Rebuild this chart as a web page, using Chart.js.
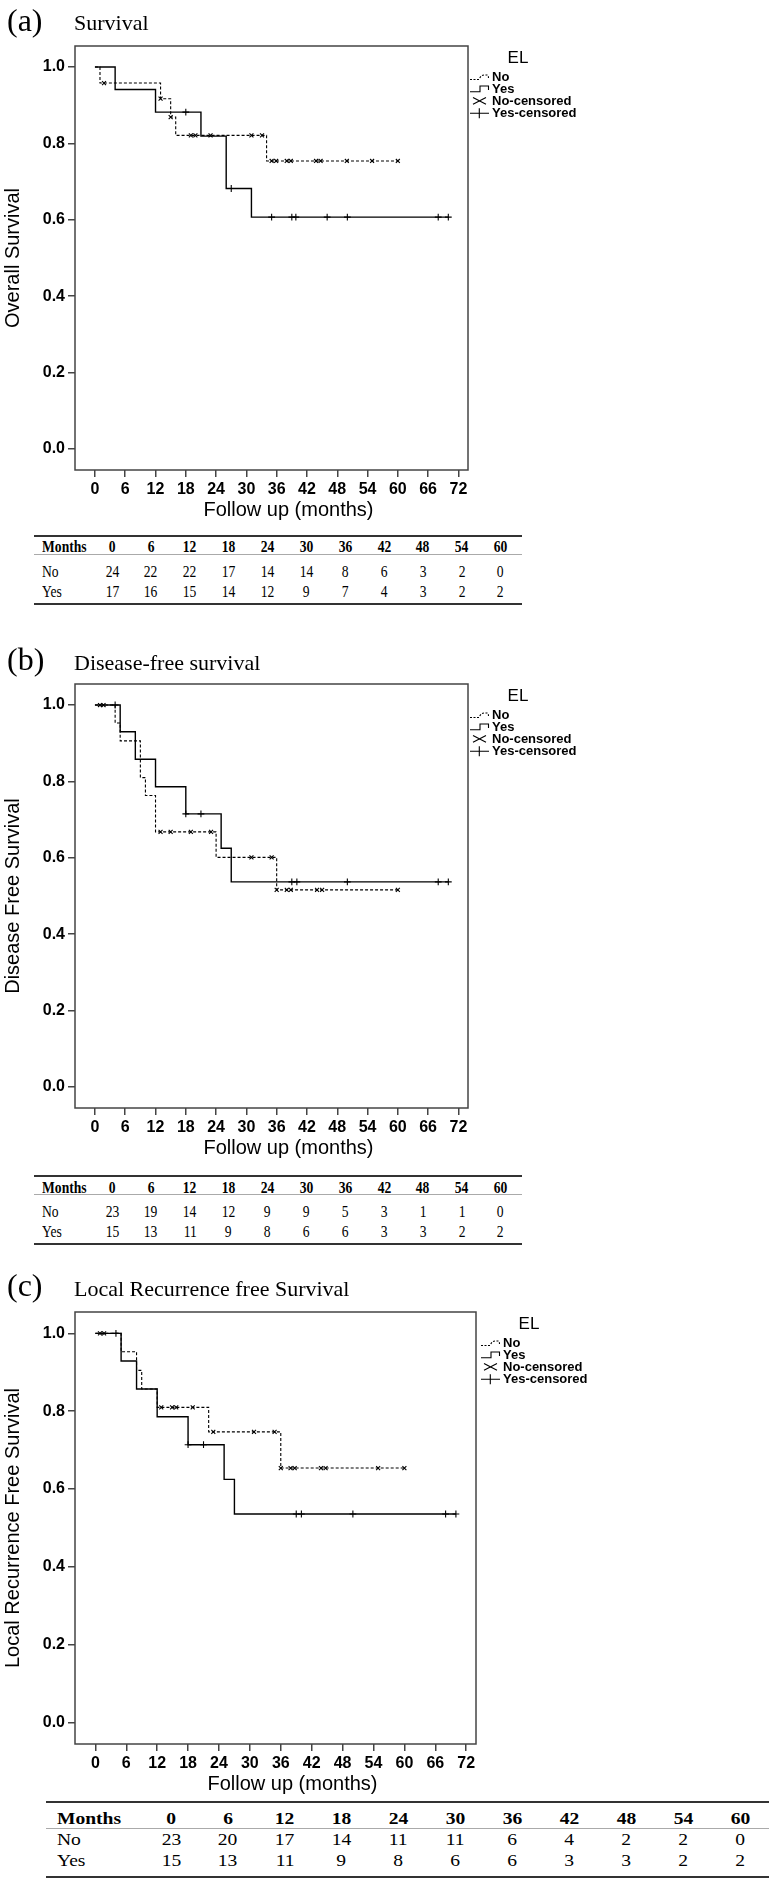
<!DOCTYPE html>
<html lang="en">
<head>
<meta charset="UTF-8">
<title>EL survival curves</title>
<script src="https://cdn.jsdelivr.net/npm/chart.js@4.4.0/dist/chart.umd.min.js"></script>
<style>
  html, body { margin: 0; padding: 0; background: #fff; }
  body { position: relative; width: 776px; height: 1883px; overflow: hidden; }
  canvas { position: absolute; left: 0; }
  .hd { position: absolute; font-family: "Liberation Serif", "Times New Roman", serif; color: #000; white-space: nowrap; line-height: 1; }
  .cell { position: absolute; font-family: "Liberation Serif", "Times New Roman", serif; font-size: 17px; line-height: 20px; height: 20px; white-space: nowrap; color: #000; }
  .cell span { display: inline-block; }
  .rule { position: absolute; }
</style>
</head>
<body>
<canvas id="chartA" width="776" height="525" style="top:0px"></canvas>
<canvas id="chartB" width="776" height="525" style="top:638px"></canvas>
<canvas id="chartC" width="776" height="533" style="top:1266px"></canvas>
<div id="tables"></div>

<script>
// axis ticks
const xTicks = [0, 6, 12, 18, 24, 30, 36, 42, 48, 54, 60, 66, 72];
const yTicks = [0, 0.2, 0.4, 0.6, 0.8, 1.0];
const riskMonths = [0, 6, 12, 18, 24, 30, 36, 42, 48, 54, 60];
const legendLabels = ['No', 'Yes', 'No-censored', 'Yes-censored'];

// (a) Survival
const aNoTime = [0, 1, 13, 15, 16, 34, 60];
const aNoSurv = [1, 0.958, 0.917, 0.869, 0.821, 0.754, 0.754];
const aNoCens = [1.8, 13, 15, 19, 19.9, 22.9, 31, 33.1, 35, 35.9, 38, 38.8, 43.8, 44.7, 49.9, 54.9, 60];
const aYesTime = [0, 4, 12, 21, 26, 31, 70];
const aYesSurv = [1, 0.941, 0.882, 0.819, 0.682, 0.607, 0.607];
const aYesCens = [18, 27, 35, 39, 39.8, 46, 50, 68, 70];
const aRiskNo = [24, 22, 22, 17, 14, 14, 8, 6, 3, 2, 0];
const aRiskYes = [17, 16, 15, 14, 12, 9, 7, 4, 3, 2, 2];

// (b) Disease-free survival
const bNoTime = [0, 4, 5, 9, 10, 12, 24, 36, 60];
const bNoSurv = [1, 0.953, 0.906, 0.81, 0.763, 0.668, 0.601, 0.516, 0.516];
const bNoCens = [1, 1.7, 13, 15, 19, 23, 31, 35, 36, 38, 38.8, 44, 45, 60];
const bYesTime = [0, 5, 8, 12, 18, 25, 27, 70];
const bYesSurv = [1, 0.93, 0.858, 0.786, 0.715, 0.625, 0.537, 0.537];
const bYesCens = [4, 18, 21, 39, 40, 50, 68, 70];
const bRiskNo = [23, 19, 14, 12, 9, 9, 5, 3, 1, 1, 0];
const bRiskYes = [15, 13, 11, 9, 8, 6, 6, 3, 3, 2, 2];

// (c) Local recurrence free survival
const cNoTime = [0, 5, 8, 9, 12, 22, 36, 60];
const cNoSurv = [1, 0.953, 0.905, 0.857, 0.81, 0.747, 0.654, 0.654];
const cNoCens = [0.9, 1.7, 12.8, 14.9, 15.7, 18.9, 22.9, 30.8, 34.8, 36, 37.9, 38.7, 43.8, 44.7, 54.9, 60];
const cYesTime = [0, 5, 8, 12, 18, 25, 27, 70];
const cYesSurv = [1, 0.929, 0.857, 0.786, 0.714, 0.625, 0.536, 0.536];
const cYesCens = [4, 18, 21, 39, 40, 50, 68, 70];
const cRiskNo = [23, 20, 17, 14, 11, 11, 6, 4, 2, 2, 0];
const cRiskYes = [15, 13, 11, 9, 8, 6, 6, 3, 3, 2, 2];

const SANS = '"Liberation Sans", Arial, sans-serif';
Chart.defaults.font.family = SANS;
Chart.defaults.color = '#000';

function stepPoints(times, surv) {
  const pts = [{x: times[0], y: surv[0]}];
  for (let i = 1; i < times.length; i++) {
    pts.push({x: times[i], y: surv[i - 1]});
    pts.push({x: times[i], y: surv[i]});
  }
  return pts;
}

function survAt(times, surv, t) {
  let v = surv[0];
  for (let i = 0; i < times.length; i++) {
    if (times[i] <= t) v = surv[i];
  }
  return v;
}

// frame, x title and the EL legend
const kmDecor = {
  id: 'kmDecor',
  afterDraw(chart, args, opts) {
    const {ctx, chartArea: a} = chart;
    ctx.save();
    ctx.strokeStyle = '#444';
    ctx.lineWidth = 1.5;
    ctx.strokeRect(a.left, a.top, a.right - a.left, a.bottom - a.top);

    ctx.fillStyle = '#000';
    ctx.textAlign = 'center';
    ctx.textBaseline = 'middle';
    ctx.font = '20px ' + SANS;
    ctx.fillText(opts.xTitle, (a.left + a.right) / 2 + 17, a.bottom + 40);

    const R = a.right + (opts.legendShift || 0), T = a.top;
    ctx.font = '17px ' + SANS;
    ctx.fillText('EL', R + 50, T + 12);

    ctx.strokeStyle = '#000';
    ctx.lineWidth = 1.1;
    // No: dashed step glyph
    ctx.setLineDash([2, 1.5]);
    ctx.beginPath();
    ctx.moveTo(R + 2, T + 33.5);
    ctx.lineTo(R + 11, T + 33.5);
    ctx.quadraticCurveTo(R + 13, T + 29, R + 16, T + 29);
    ctx.lineTo(R + 19, T + 29);
    ctx.quadraticCurveTo(R + 20.5, T + 29.5, R + 20.5, T + 32);
    ctx.stroke();
    ctx.setLineDash([]);
    // Yes: solid step glyph
    ctx.beginPath();
    ctx.moveTo(R + 2, T + 45.7);
    ctx.lineTo(R + 12, T + 45.7);
    ctx.lineTo(R + 12, T + 40);
    ctx.lineTo(R + 20.5, T + 40);
    ctx.lineTo(R + 20.5, T + 44);
    ctx.stroke();
    // No-censored: X
    ctx.beginPath();
    ctx.moveTo(R + 5, T + 51.5); ctx.lineTo(R + 18, T + 58.2);
    ctx.moveTo(R + 5, T + 58.2); ctx.lineTo(R + 18, T + 51.5);
    ctx.stroke();
    // Yes-censored: +
    ctx.beginPath();
    ctx.moveTo(R + 2, T + 67.3); ctx.lineTo(R + 21, T + 67.3);
    ctx.moveTo(R + 11.3, T + 62.3); ctx.lineTo(R + 11.3, T + 72.3);
    ctx.stroke();

    ctx.textAlign = 'left';
    ctx.font = 'bold 13px ' + SANS;
    [31, 43, 55, 67.3].forEach((dy, i) => ctx.fillText(legendLabels[i], R + 24, T + dy));
    ctx.restore();
  }
};

function makeChart(id, cfg) {
  const ctx = document.getElementById(id).getContext('2d');
  return new Chart(ctx, {
    type: 'line',
    data: {
      datasets: [
        { label: 'No', data: stepPoints(cfg.noTime, cfg.noSurv), borderColor: '#000', borderWidth: 1.1,
          borderDash: [3, 2], pointRadius: 0, pointHoverRadius: 0, fill: false, tension: 0 },
        { label: 'Yes', data: stepPoints(cfg.yesTime, cfg.yesSurv), borderColor: '#000', borderWidth: 1.4,
          pointRadius: 0, pointHoverRadius: 0, fill: false, tension: 0 },
        { label: 'No-censored', data: cfg.noCens.map(t => ({x: t, y: survAt(cfg.noTime, cfg.noSurv, t)})),
          showLine: false, pointStyle: 'crossRot', pointRadius: 2.8, pointBorderColor: '#000', pointBorderWidth: 1.1 },
        { label: 'Yes-censored', data: cfg.yesCens.map(t => ({x: t, y: survAt(cfg.yesTime, cfg.yesSurv, t)})),
          showLine: false, pointStyle: 'cross', pointRadius: 3.4, pointBorderColor: '#000', pointBorderWidth: 1.1 }
      ]
    },
    options: {
      responsive: false,
      animation: false,
      devicePixelRatio: 1,
      events: [],
      layout: { padding: { top: 46, right: cfg.padRight, bottom: 2, left: 0 } },
      plugins: {
        legend: { display: false },
        tooltip: { enabled: false },
        kmDecor: { xTitle: 'Follow up (months)', legendShift: cfg.legendShift }
      },
      scales: {
        x: {
          type: 'linear', min: -3.95, max: 73.9,
          afterBuildTicks: s => { s.ticks = xTicks.map(v => ({value: v})); },
          afterFit: s => { s.height = 53; },
          border: { display: false },
          grid: { drawOnChartArea: false, drawTicks: true, tickLength: 7, color: '#444', lineWidth: 1.5 },
          ticks: { color: '#000', font: { size: 16, weight: 'bold' }, padding: 3, maxRotation: 0, autoSkip: false }
        },
        y: {
          min: -0.055, max: 1.055,
          afterBuildTicks: s => { s.ticks = yTicks.map(v => ({value: v})); },
          afterFit: s => { s.width = 75; },
          border: { display: false },
          grid: { drawOnChartArea: false, drawTicks: true, tickLength: 7, color: '#444', lineWidth: 1.5 },
          ticks: { color: '#000', font: { size: 16, weight: 'bold' }, padding: 3, callback: v => v.toFixed(1) },
          title: { display: true, text: cfg.yTitle, color: '#000', font: { size: 20 }, padding: { top: 1, bottom: 0 } }
        }
      }
    },
    plugins: [kmDecor]
  });
}

makeChart('chartA', { noTime: aNoTime, noSurv: aNoSurv, noCens: aNoCens, yesTime: aYesTime, yesSurv: aYesSurv,
  yesCens: aYesCens, yTitle: 'Overall Survival', padRight: 308 });
makeChart('chartB', { noTime: bNoTime, noSurv: bNoSurv, noCens: bNoCens, yesTime: bYesTime, yesSurv: bYesSurv,
  yesCens: bYesCens, yTitle: 'Disease Free Survival', padRight: 308 });
makeChart('chartC', { noTime: cNoTime, noSurv: cNoSurv, noCens: cNoCens, yesTime: cYesTime, yesSurv: cYesSurv,
  yesCens: cYesCens, yTitle: 'Local Recurrence Free Survival', padRight: 300, legendShift: 3 });

// panel headings
function heading(letter, title, baseline) {
  const a = document.createElement('div');
  a.className = 'hd';
  a.style.cssText = 'left:7px;font-size:32px;top:' + (baseline - 26.8) + 'px';
  a.textContent = letter;
  document.body.appendChild(a);
  const t = document.createElement('div');
  t.className = 'hd';
  t.style.cssText = 'left:74px;font-size:22px;top:' + (baseline - 18.4) + 'px';
  t.textContent = title;
  document.body.appendChild(t);
}
heading('(a)', 'Survival', 30.5);
heading('(b)', 'Disease-free survival', 670);
heading('(c)', 'Local Recurrence free Survival', 1296);

// number-at-risk tables
function riskTable(no, yes, L) {
  const box = document.getElementById('tables');
  const rows = [['Months'].concat(riskMonths), ['No'].concat(no), ['Yes'].concat(yes)];
  rows.forEach((row, r) => {
    row.forEach((val, c) => {
      const d = document.createElement('div');
      d.className = 'cell';
      const s = document.createElement('span');
      s.textContent = val;
      s.style.transform = 'scaleX(' + L.sx + ')';
      if (r === 0) s.style.fontWeight = 'bold';
      d.appendChild(s);
      if (c === 0) {
        d.style.left = L.labelX + 'px';
        s.style.transformOrigin = 'left center';
      } else {
        d.style.left = (L.col0 + (c - 1) * L.step - 30) + 'px';
        d.style.width = '60px';
        d.style.textAlign = 'center';
      }
      d.style.top = (L.rowY[r] - 10) + 'px';
      box.appendChild(d);
    });
  });
  L.rules.forEach(([y, h, col]) => {
    const ln = document.createElement('div');
    ln.className = 'rule';
    ln.style.cssText = 'left:' + L.left + 'px;width:' + (L.right - L.left) + 'px;top:' + y + 'px;height:' + h + 'px;background:' + col;
    box.appendChild(ln);
  });
}
riskTable(aRiskNo, aRiskYes, { left: 34, right: 522, labelX: 42, col0: 112, step: 38.87, sx: 0.8,
  rowY: [547, 571.7, 591.7], rules: [[535, 2, '#333'], [554, 1, '#aaa'], [602.5, 2, '#333']] });
riskTable(bRiskNo, bRiskYes, { left: 34, right: 522, labelX: 42, col0: 112, step: 38.87, sx: 0.8,
  rowY: [1188, 1211.7, 1231.7], rules: [[1175, 2, '#333'], [1194, 1, '#aaa'], [1242.5, 2, '#333']] });
riskTable(cRiskNo, cRiskYes, { left: 46, right: 769, labelX: 57, col0: 171, step: 56.9, sx: 1.15,
  rowY: [1819, 1840, 1861], rules: [[1801, 2, '#333'], [1828, 1, '#aaa'], [1875.5, 2, '#333']] });
</script>
</body>
</html>
